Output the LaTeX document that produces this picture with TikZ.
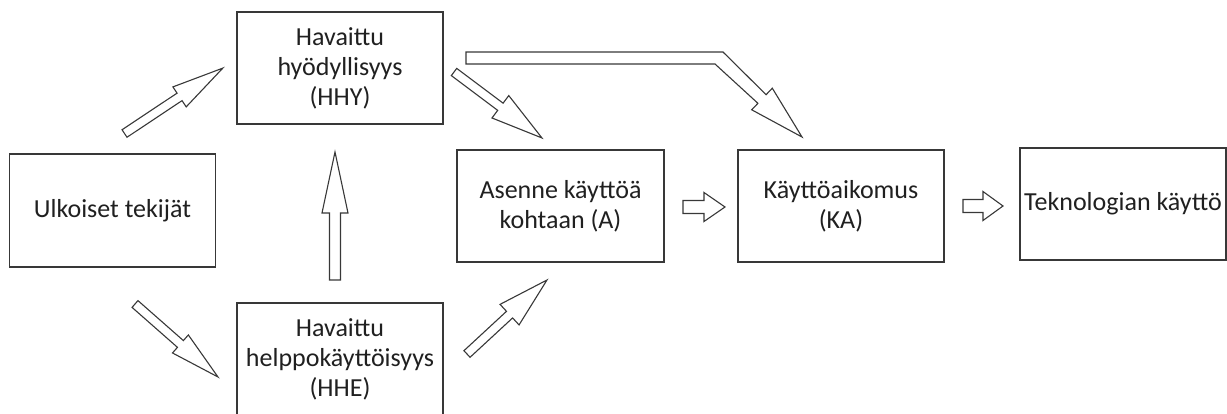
\documentclass[tikz,border=0pt]{standalone}
\usepackage{fontspec}
\setmainfont{Carlito}
\usetikzlibrary{calc}
\definecolor{txt}{HTML}{202020}
\definecolor{ln}{HTML}{383838}
\tikzset{
  box/.style={draw=ln, line width=1.2pt, fill=white, align=center, text=txt,
    font=\fontsize{26pt}{30pt}\selectfont, inner sep=0pt},
  barrowstyle/.style={draw=ln, fill=white, line width=1.1pt, line join=miter},
}
\newcommand\blockarrow[5]{%
  \path[barrowstyle] let \p1=($(#2)-(#1)$), \n1={veclen(\x1,\y1)}, \n2={atan2(\y1,\x1)} in
    [shift={(#1)}, rotate=\n2]
    (0pt,-#3) -- ({\n1-#5},-#3) -- ({\n1-#5},-#4) -- (\n1,0pt) -- ({\n1-#5},#4) -- ({\n1-#5},#3) -- (0pt,#3) -- cycle;
}
\begin{document}
\begin{tikzpicture}[x=1pt,y=-1pt]
\useasboundingbox (0,0) rectangle (1227,414);
\clip (0,0) rectangle (1227,414);
\node[box, minimum width=206pt, minimum height=113pt] (U) at (112.5,210.5) {Ulkoiset tekijät};
\node[box, minimum width=206pt, minimum height=112pt] (HHY) at (340,68) {Havaittu\\hyödyllisyys\\(HHY)};
\node[box, minimum width=206pt, minimum height=112pt] (HHE) at (340,359) {Havaittu\\helppokäyttöisyys\\(HHE)};
\node[box, minimum width=207pt, minimum height=112pt] (A) at (560.5,206) {Asenne käyttöä\\kohtaan (A)};
\node[box, minimum width=206pt, minimum height=112pt] (KA) at (841,206) {Käyttöaikomus\\(KA)};
\node[box, minimum width=206pt, minimum height=112pt] (T) at (1123,204) {Teknologian käyttö};

% arrow endpoints
\coordinate (a1s) at (124.5,133.5); \coordinate (a1e) at (223,68);
\coordinate (a2s) at (135,304);     \coordinate (a2e) at (218,377);
\coordinate (a3s) at (335,280);     \coordinate (a3e) at (335,152);
\coordinate (a4s) at (454,72);      \coordinate (a4e) at (542,138);
\coordinate (a6s) at (467,354);     \coordinate (a6e) at (547,280);
\coordinate (a7s) at (683,207);     \coordinate (a7e) at (725,207);
\coordinate (a8s) at (963,206);     \coordinate (a8e) at (1003,206);

\blockarrow{a1s}{a1e}{4.5pt}{12pt}{52pt}
\blockarrow{a2s}{a2e}{4.5pt}{12pt}{50pt}
\blockarrow{a3s}{a3e}{5.5pt}{13pt}{61pt}
\blockarrow{a4s}{a4e}{4.5pt}{14pt}{52pt}
\blockarrow{a6s}{a6e}{4.5pt}{14pt}{51pt}
\blockarrow{a7s}{a7e}{6.5pt}{14.5pt}{21pt}
\blockarrow{a8s}{a8e}{6.5pt}{14.5pt}{20pt}

% bent arrow HHY -> KA
\coordinate (b0) at (466,52);
\coordinate (b1) at (723,52);
\coordinate (b2) at (766.1,94.7);
\coordinate (b3) at (772.3,88.2);
\coordinate (b4) at (802,137);
\coordinate (b5) at (751.7,109.8);
\coordinate (b6) at (757.9,103.3);
\coordinate (b7) at (715,64);
\coordinate (b8) at (466,64);
\path[barrowstyle] (b0) -- (b1) -- (b2) -- (b3) -- (b4) -- (b5) -- (b6) -- (b7) -- (b8) -- cycle;
\end{tikzpicture}
\end{document}
